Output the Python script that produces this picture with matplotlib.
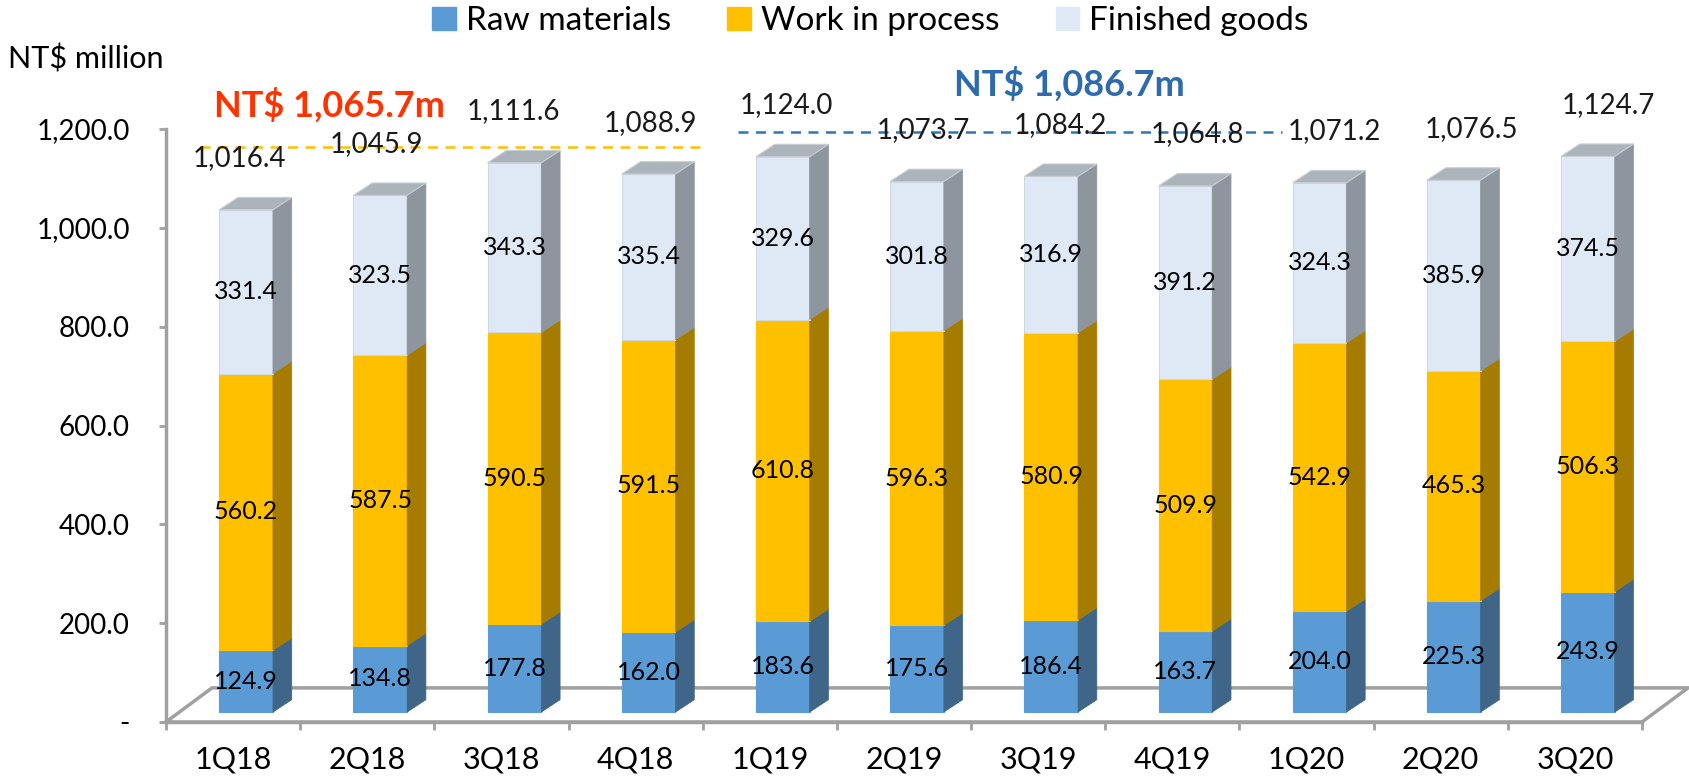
"""
Inventory breakdown by quarter, drawn as pseudo-3D stacked bars
"""

import numpy as np
import matplotlib.pyplot as plt
from matplotlib.patches import Polygon, Patch

# ---------------------------------------------------------------------------- #
# Data
# ---------------------------------------------------------------------------- #
quarters = ['1Q18', '2Q18', '3Q18', '4Q18', '1Q19', '2Q19', '3Q19', '4Q19',
            '1Q20', '2Q20', '3Q20']
raw_materials = [124.9, 134.8, 177.8, 162.0, 183.6, 175.6, 186.4, 163.7,
                 204.0, 225.3, 243.9]
work_in_process = [560.2, 587.5, 590.5, 591.5, 610.8, 596.3, 580.9, 509.9,
                   542.9, 465.3, 506.3]
finished_goods = [331.4, 323.5, 343.3, 335.4, 329.6, 301.8, 316.9, 391.2,
                  324.3, 385.9, 374.5]
totals = [1016.4, 1045.9, 1111.6, 1088.9, 1124.0, 1073.7, 1084.2, 1064.8,
          1071.2, 1076.5, 1124.7]
series_names = ['Raw materials', 'Work in process', 'Finished goods']
yticks = [0, 200, 400, 600, 800, 1000, 1200]

# yearly averages (2018 -> first four quarters, 2019 -> next four)
avg_values = [1065.7, 1086.7]
avg_labels = ['NT$ 1,065.7m', 'NT$ 1,086.7m']
avg_ranges = [(0, 3), (4, 7)]

# ---------------------------------------------------------------------------- #
# Style
# ---------------------------------------------------------------------------- #
plt.rcParams['font.family'] = ['Lato', 'DejaVu Sans']
front_cols = ['#5B9BD5', '#FFC000', '#DFE8F5']
side_cols = ['#3F6689', '#A67C00', '#8D959E']
top_col = '#ABB3BB'
avg_text_cols = ['#FF3300', '#2E6AAE']
avg_line_cols = ['#FFC000', '#2E75B6']
grey = '#A0A0A0'

# pseudo-3D geometry, in data units (x: categories, y: NT$ million)
bar_w = 0.40
off_x, off_y = 0.097, 20.      # front face offset from the floor front edge
dep_x, dep_y = 0.14, 25.       # depth of each bar
floor_x, floor_y = 0.343, 69.  # depth of the floor

fig = plt.figure(figsize=(16.9, 7.79), dpi=100)
ax = fig.add_axes([166/1690, 57/779, 1476/1690, 593/779])
n = len(quarters)
ax.set_xlim(0, n)
ax.set_ylim(0, 1200)

# floor
ax.add_patch(Polygon([(0, 0), (floor_x, floor_y), (n + floor_x, floor_y), (n, 0)],
                     closed=True, facecolor='white', edgecolor=grey, lw=2.5,
                     clip_on=False, zorder=1))

# ---------------------------------------------------------------------------- #
# Bars
# ---------------------------------------------------------------------------- #
segments = [raw_materials, work_in_process, finished_goods]
x_left = np.arange(n) + 0.5 - bar_w / 2 + off_x
bottom = np.zeros(n)
for k, vals in enumerate(segments):
    vals = np.array(vals)
    ax.bar(x_left, vals, width=bar_w, bottom=bottom + off_y, align='edge',
           color=front_cols[k], edgecolor='#D0D8E0' if k == 2 else front_cols[k],
           lw=0.8, zorder=3, clip_on=False)
    for i in range(n):
        xr = x_left[i] + bar_w
        b, t = bottom[i] + off_y, bottom[i] + vals[i] + off_y
        ax.add_patch(Polygon([(xr, b), (xr + dep_x, b + dep_y),
                              (xr + dep_x, t + dep_y), (xr, t)],
                             closed=True, facecolor=side_cols[k],
                             edgecolor=side_cols[k], lw=0.5, zorder=3,
                             clip_on=False))
        ax.text(x_left[i] + bar_w / 2, bottom[i] + vals[i] / 2 + off_y,
                f'{vals[i]:.1f}', ha='center', va='center', fontsize=18,
                color='black', zorder=5, clip_on=False)
    bottom += vals

# top faces and totals
for i in range(n):
    t = bottom[i] + off_y
    x0 = x_left[i]
    ax.add_patch(Polygon([(x0, t), (x0 + dep_x, t + dep_y),
                          (x0 + bar_w + dep_x, t + dep_y), (x0 + bar_w, t)],
                         closed=True, facecolor=top_col, edgecolor='#C8CED4',
                         lw=0.8, zorder=3, clip_on=False))
    ax.text(x0 + bar_w / 2 - 0.05 + 0.02 * i, totals[i] + 124,
            f'{totals[i]:,.1f}', ha='center', va='center', fontsize=20,
            color='#1A1A1A', clip_on=False, zorder=5)

# yearly average annotations
line_lift = [98, 108]
line_ext = [(0.25, 0.0), (0.26, 0.32)]
text_lift = [183, 204]
text_shift = [-0.78, 0.73]
for j, label in enumerate(avg_labels):
    first, last = avg_ranges[j]
    ax.plot([first + line_ext[j][0], last + 1 + line_ext[j][1]],
            [avg_values[j] + line_lift[j]] * 2, ls=(0, (4, 3)),
            color=avg_line_cols[j], lw=1.8, clip_on=False, zorder=2)
    ax.text((first + last + 1) / 2 + text_shift[j], avg_values[j] + text_lift[j],
            label, ha='center', va='center', fontsize=26, fontweight='bold',
            color=avg_text_cols[j], clip_on=False)

# ---------------------------------------------------------------------------- #
# Axes
# ---------------------------------------------------------------------------- #
for side in ['top', 'right']:
    ax.spines[side].set_visible(False)
for side in ['left', 'bottom']:
    ax.spines[side].set_color(grey)
    ax.spines[side].set_linewidth(2.5)
    ax.spines[side].set_zorder(2)

ax.set_yticks(yticks)
ax.set_yticklabels(['-' if v == 0 else f'{v:,.1f}' for v in yticks])
ax.tick_params(axis='y', length=5, width=2, color=grey, pad=21, labelsize=20)
ax.set_xticks(np.arange(n) + 0.5)
ax.set_xticklabels(quarters)
ax.set_xticks(np.arange(n + 1), minor=True)
ax.tick_params(axis='x', which='major', length=0, pad=17, labelsize=22)
ax.tick_params(axis='x', which='minor', length=6, width=2, color=grey)

fig.text(86/1690, 1 - 59/779, 'NT$ million', ha='center', va='center',
         fontsize=22)

handles = [Patch(facecolor=c, edgecolor=c) for c in front_cols]
fig.legend(handles, series_names, loc='center', bbox_to_anchor=(0.515, 1 - 21/779),
           ncol=3, frameon=False, fontsize=24, handlelength=0.7,
           handleheight=0.7, handletextpad=0.3, columnspacing=1.7)

fig.savefig('out.png', dpi=100)
plt.close()
